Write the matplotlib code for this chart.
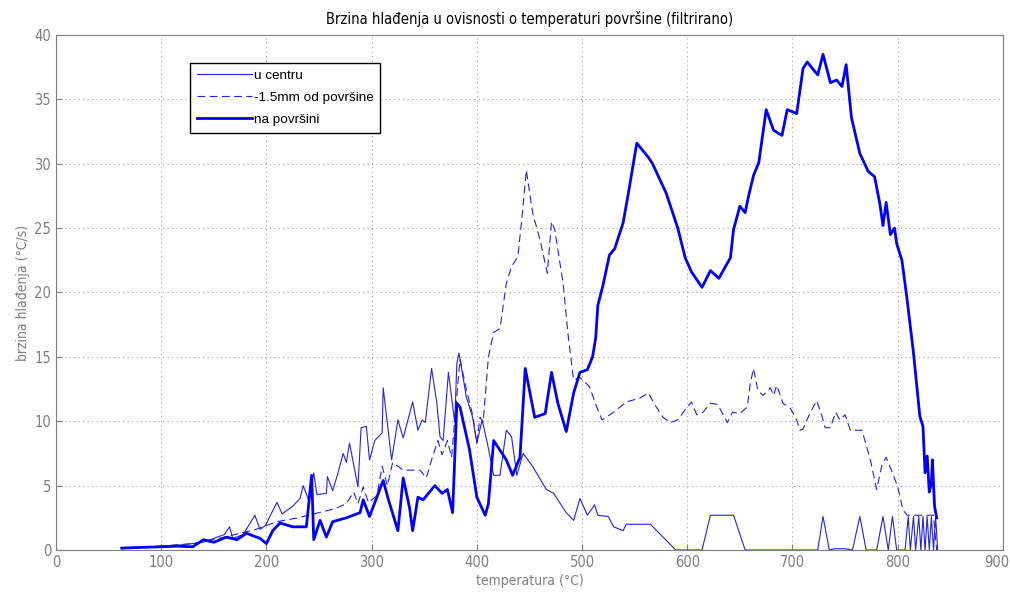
import numpy as np
import matplotlib.pyplot as plt
from matplotlib.transforms import ScaledTranslation

plt.rcParams['font.family'] = ['DejaVu Sans']
plt.rcParams['font.stretch'] = 'condensed'

# "na povrsini" - thick line
t_surf = [62.5, 80, 99, 115, 130, 140, 150, 162, 172, 181, 194, 200, 206, 213, 225, 238,
          243, 245, 251, 257, 263, 276, 289, 292, 298, 311, 316, 325, 330, 336, 339, 344,
          349, 360, 367, 372, 377, 381, 384, 393, 400, 408, 411, 416, 428, 434, 441, 446,
          455, 465, 471, 477, 485, 492, 498, 505, 510, 513, 515, 520, 526, 531, 539, 544,
          552, 563, 567, 580, 591, 598, 604, 614, 622, 630, 641, 644, 650, 655, 658, 663,
          668, 675, 682, 690, 695, 704, 710, 714, 724, 729, 736, 742, 747, 751, 756, 764,
          772, 778, 783, 786, 789, 793, 797, 799, 804, 809, 815, 821, 824, 826, 828, 830,
          832, 833, 835, 837]
v_surf = [0.15, 0.2, 0.25, 0.3, 0.25, 0.8, 0.6, 1.0, 0.8, 1.3, 0.9, 0.5, 1.5, 2.1, 1.8, 1.8,
          5.8, 0.8, 2.3, 1.0, 2.2, 2.5, 2.9, 3.9, 2.6, 5.4, 3.9, 1.5, 5.6, 3.3, 1.5, 4.1,
          3.9, 5.0, 4.4, 4.7, 2.9, 11.4, 11.1, 7.8, 4.1, 2.7, 3.6, 8.5, 7.0, 5.8, 7.2, 14.1,
          10.3, 10.6, 13.8, 11.4, 9.2, 12.2, 13.8, 14.0, 15.0, 16.5, 19.0, 20.6, 22.9, 23.4, 25.4, 27.7,
          31.6, 30.5, 30.0, 27.7, 25.0, 22.7, 21.6, 20.4, 21.7, 21.1, 22.7, 24.9, 26.7, 26.2, 27.4, 29.1,
          30.1, 34.2, 32.6, 32.2, 34.2, 33.9, 37.4, 37.9, 36.9, 38.5, 36.3, 36.5, 36.0, 37.7, 33.6, 30.8,
          29.4, 29.0, 26.9, 25.2, 27.0, 24.5, 25.0, 23.8, 22.5, 19.4, 15.3, 10.4, 9.6, 6.0, 7.3, 4.5,
          5.2, 7.0, 3.4, 2.5]

# "u centru" - thin line
t_centre = [62.5, 80, 100, 120, 140, 150, 160, 165, 168, 178, 189, 194, 199, 210, 215, 225,
            232, 235, 240, 245, 248, 257, 258, 263, 267, 273, 276, 279, 287, 290, 295, 298,
            303, 310, 311, 319, 325, 330, 339, 344, 348, 351, 357, 362, 365, 368, 373, 379,
            381, 383, 390, 396, 400, 405, 410, 416, 422, 428, 433, 438, 444, 453, 466, 473,
            485, 492, 498, 505, 512, 515, 525, 530, 539, 542, 565, 589, 614, 622, 644, 655,
            724, 729, 735, 740, 750, 757, 764, 770, 780, 786, 791, 795, 799, 807, 810, 812,
            815, 817, 820, 822, 824, 826, 828, 830, 832, 834, 836, 838]
v_centre = [0.1, 0.2, 0.3, 0.4, 0.6, 0.9, 1.2, 1.8, 0.9, 1.2, 2.7, 1.6, 1.9, 3.7, 2.8, 3.4,
            4.0, 5.0, 3.9, 6.0, 4.3, 4.4, 5.7, 4.6, 5.7, 7.5, 6.8, 8.3, 4.9, 9.5, 9.6, 7.0,
            8.5, 9.1, 12.6, 7.0, 10.1, 8.7, 11.5, 9.3, 10.1, 9.9, 14.1, 11.4, 8.8, 8.5, 13.8, 9.9,
            14.5, 15.3, 11.9, 10.3, 8.3, 10.1, 8.3, 5.8, 5.8, 9.3, 8.8, 5.8, 7.5, 6.5, 4.7, 4.4,
            2.9, 2.3, 4.0, 2.7, 3.5, 2.7, 2.6, 1.8, 1.5, 2.0, 2.0, 0.0, 0.0, 2.7, 2.7, 0.0,
            0.0, 2.6, 0.0, 0.1, 0.1, 0.0, 2.6, 0.0, 0.0, 2.6, 0.0, 2.6, 0.0, 0.0, 2.6, 0.0,
            2.6, 0.0, 2.6, 0.0, 2.6, 0.0, 2.6, 0.0, 2.6, 0.0, 2.6, 0.0]

# "-1.5mm od povrsine" - dashed line
t_mid = [62.5, 100, 130, 150, 170, 190, 210, 230, 250, 265, 276, 283, 287, 292, 297, 305,
         310, 315, 320, 330, 341, 346, 352, 357, 363, 367, 372, 376, 379, 384, 390, 396,
         400, 403, 406, 411, 416, 422, 428, 433, 439, 443, 447, 453, 460, 467, 471, 474,
         482, 487, 492, 498, 507, 514, 519, 530, 542, 555, 563, 569, 577, 584, 591, 598,
         604, 609, 615, 622, 629, 638, 643, 650, 657, 660, 663, 667, 672, 679, 682, 685,
         691, 698, 704, 707, 710, 717, 723, 728, 731, 736, 741, 745, 750, 755, 766, 774,
         780, 785, 789, 795, 800, 805, 809, 834, 837]
v_mid = [0.1, 0.3, 0.5, 0.8, 1.2, 1.6, 2.2, 2.5, 2.9, 3.2, 3.6, 4.5, 3.6, 4.9, 3.7, 4.2,
         6.5, 5.0, 6.8, 6.2, 6.2, 6.2, 5.6, 7.0, 8.5, 7.4, 8.5, 7.2, 10.1, 14.8, 12.5, 10.5,
         8.3, 10.3, 9.9, 15.0, 16.9, 17.2, 20.7, 22.0, 22.8, 25.9, 29.5, 26.2, 24.1, 21.5, 25.5, 24.9,
         20.7, 16.5, 13.2, 13.4, 12.7, 11.1, 10.1, 10.7, 11.5, 11.8, 12.2, 11.3, 10.3, 9.9, 10.1, 10.9,
         11.5, 10.5, 10.7, 11.4, 11.3, 9.9, 10.7, 10.6, 11.1, 13.0, 14.1, 12.4, 12.0, 12.6, 12.0, 12.8,
         11.4, 11.0, 10.1, 9.3, 9.4, 10.7, 11.6, 10.4, 9.5, 9.5, 10.7, 10.1, 10.5, 9.3, 9.3, 7.0,
         4.7, 6.6, 7.2, 6.0, 4.9, 3.1, 2.7, 2.7, 0.0]

gray = '#7f7f7f'

fig = plt.figure(figsize=(10.1, 5.93), dpi=100)
ax = fig.add_axes([0.0554, 0.0725, 0.9376, 0.8685])

ax.plot(t_centre, v_centre, color='#2424d8', lw=0.8, label='u centru')
ax.plot(t_mid, v_mid, color='#2424d8', lw=0.8, linestyle=(0, (7, 4)), label='-1.5mm od površine')
ax.plot(t_surf, v_surf, color='blue', lw=2.0, label='na površini')

ax.set_xlim(0, 900)
ax.set_ylim(0, 40)
ax.set_xticks(np.arange(0, 901, 100))
ax.set_yticks(np.arange(0, 41, 5))
ax.grid(True, color='#a0a0a0', linestyle=(0, (1, 3)), lw=0.8)
ax.tick_params(direction='in', colors=gray, labelsize=10.5, length=4)
for s in ax.spines.values():
    s.set_color(gray)

# keep the last x label inside the figure
last = ax.get_xticklabels()[-1]
last.set_transform(last.get_transform() + ScaledTranslation(-0.06, 0, fig.dpi_scale_trans))

ax.set_title('Brzina hlađenja u ovisnosti o temperaturi površine (filtrirano)', fontsize=10.5, pad=8)
ax.set_xlabel('temperatura (°C)', color=gray, fontsize=10, labelpad=3)
ax.set_ylabel('brzina hlađenja (°C/s)', color=gray, fontsize=10, labelpad=3)

leg = ax.legend(loc='upper left', bbox_to_anchor=(0.1415, 0.9456), borderaxespad=0,
                fancybox=False, framealpha=1, edgecolor='black',
                prop={'family': 'Liberation Sans', 'stretch': 'normal', 'size': 9.7},
                handlelength=4.1, handletextpad=0.15, labelspacing=0.7, borderpad=0.5)
leg.get_frame().set_linewidth(1.0)

fig.savefig('out.png', dpi=100)
